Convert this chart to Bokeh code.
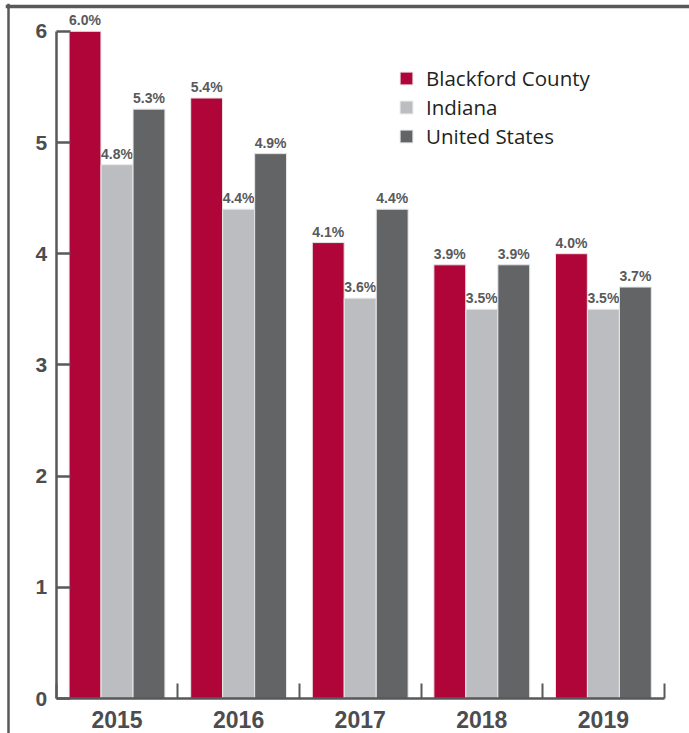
from bokeh.plotting import figure
from bokeh.models import (ColumnDataSource, LinearAxis, FixedTicker, Span, Legend,
                          LegendItem, Range1d)
from bokeh.transform import dodge
from bokeh.core.properties import value
from bokeh.embed import file_html
from bokeh.resources import INLINE

# Unemployment rate (%) by year
years = ["2015", "2016", "2017", "2018", "2019"]
blackford = [6.0, 5.4, 4.1, 3.9, 4.0]
indiana = [4.8, 4.4, 3.6, 3.5, 3.5]
united_states = [5.3, 4.9, 4.4, 3.9, 3.7]
series_names = ["Blackford County", "Indiana", "United States"]
y_ticks = [0, 1, 2, 3, 4, 5, 6]

RED = "#b00538"
LIGHT = "#bcbdc0"
DARK = "#636466"
AXIS = "#58595b"
TEXT = "#4d4d4f"

W, H = 689, 733
# pixel layout of the frame and the data area
FRAME_L, FRAME_T = 5, 3
X0_PX, CAT_PX = 116.5, 121.6      # centre of first group, width of one group
Y0_PX, UNIT_PX = 698.0, 111.2     # baseline, pixels per percentage point

x_start = (FRAME_L - X0_PX) / CAT_PX
x_end = (W - X0_PX) / CAT_PX
y_end = (Y0_PX - FRAME_T) / UNIT_PX
y_start = -(H - Y0_PX) / UNIT_PX

idx = list(range(len(years)))
source = ColumnDataSource(dict(
    x=idx, year=years, blackford=blackford, indiana=indiana, us=united_states,
    blackford_lbl=[f"{v:.1f}%" for v in blackford],
    indiana_lbl=[f"{v:.1f}%" for v in indiana],
    us_lbl=[f"{v:.1f}%" for v in united_states],
))

p = figure(width=W, height=H, output_backend="svg", toolbar_location=None,
           x_range=Range1d(x_start, x_end), y_range=Range1d(y_start, y_end),
           x_axis_type=None, y_axis_type=None,
           min_border_left=FRAME_L, min_border_top=FRAME_T,
           min_border_right=0, min_border_bottom=0)
p.outline_line_color = None
p.xgrid.visible = False
p.ygrid.visible = False
p.background_fill_color = "white"
p.border_fill_color = "white"

OFF = 0.263
BAR_W = 0.262
renderers = []
for col, off, color in [("blackford", -OFF, RED), ("indiana", 0.0, LIGHT), ("us", OFF, DARK)]:
    r = p.vbar(x=dodge("x", off), top=col, bottom=0, width=BAR_W, source=source,
               fill_color=color, line_color="#e6e6e6", line_width=1)
    renderers.append(r)
    p.text(x=dodge("x", off), y=col, text=col + "_lbl", source=source,
           text_align="center", text_baseline="bottom", y_offset=-3,
           text_font=value("Liberation Sans"), text_font_style="bold",
           text_font_size="14px", text_color=AXIS)

# chart frame: top and left rules
p.add_layout(Span(location=(8 - X0_PX) / CAT_PX, dimension="height",
                  line_color=AXIS, line_width=2.5))
p.add_layout(Span(location=(Y0_PX - 6) / UNIT_PX, dimension="width",
                  line_color=AXIS, line_width=3.5))

# y axis
yax = LinearAxis(fixed_location=-0.5, bounds=(0, 6), ticker=FixedTicker(ticks=y_ticks))
yax.axis_line_color = AXIS
yax.axis_line_width = 2.5
yax.major_tick_line_color = AXIS
yax.major_tick_line_width = 2.5
yax.major_tick_in = 14
yax.major_tick_out = 0
yax.minor_tick_line_color = None
yax.major_label_standoff = 9
yax.major_label_text_font = "Liberation Sans"
yax.major_label_text_font_style = "bold"
yax.major_label_text_font_size = "21px"
yax.major_label_text_color = TEXT
p.add_layout(yax, "left")

# x axis line with group separators
xax = LinearAxis(fixed_location=0, bounds=(-0.5, len(years) - 0.5),
                 ticker=FixedTicker(ticks=[i - 0.5 for i in range(len(years) + 1)]))
xax.axis_line_color = AXIS
xax.axis_line_width = 2.5
xax.major_tick_line_color = AXIS
xax.major_tick_line_width = 2
xax.major_tick_in = 15
xax.major_tick_out = 0
xax.minor_tick_line_color = None
xax.major_label_text_color = None
p.add_layout(xax, "below")

# x axis year labels
lax = LinearAxis(fixed_location=0, ticker=FixedTicker(ticks=idx),
                 major_label_overrides={i: y for i, y in zip(idx, years)})
lax.axis_line_color = None
lax.major_tick_line_color = None
lax.minor_tick_line_color = None
lax.major_label_standoff = 6
lax.major_label_text_font = "Liberation Sans"
lax.major_label_text_font_style = "bold"
lax.major_label_text_font_size = "23px"
lax.major_label_text_color = TEXT
p.add_layout(lax, "below")

legend = Legend(items=[LegendItem(label=n, renderers=[r]) for n, r in zip(series_names, renderers)],
                location=(398 - FRAME_L, H - 64 - 86), margin=0, padding=0,
                border_line_color=None, background_fill_alpha=0,
                glyph_width=16, glyph_height=16, label_height=16,
                label_standoff=12, spacing=1,
                label_text_font="Open Sans", label_text_font_size="20.5px",
                label_text_color="#231f20")
p.add_layout(legend, "center")

open("out.html", "w").write(file_html(p, INLINE))
